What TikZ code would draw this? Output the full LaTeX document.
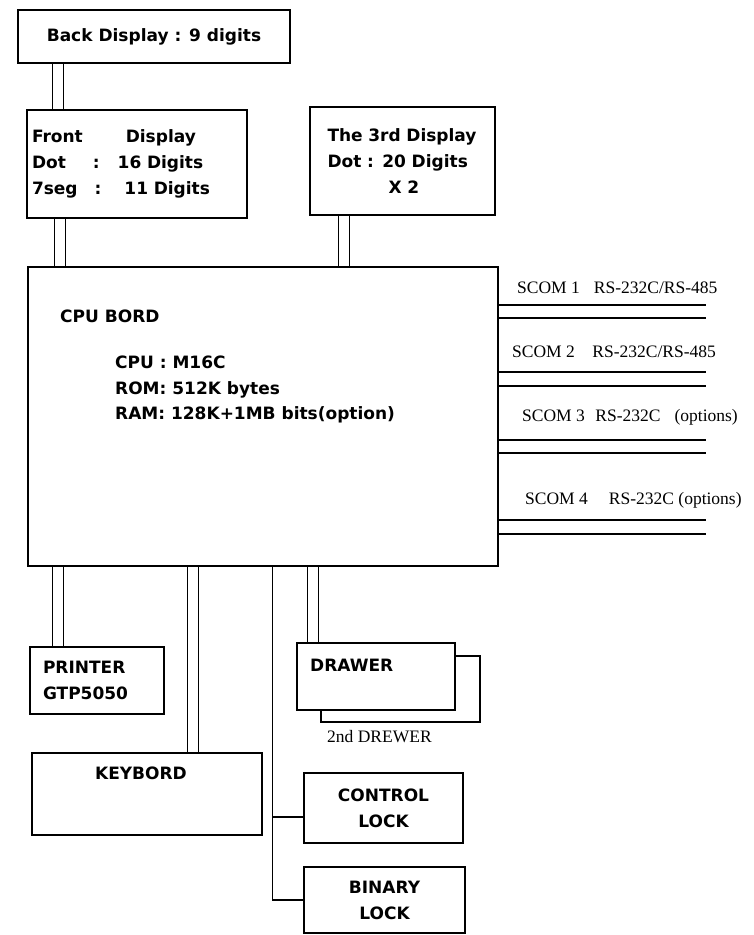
\documentclass[tikz,border=0pt]{standalone}
\usepackage{fontspec}
\setmainfont{DejaVu Sans}
\newfontfamily\scomfont{Liberation Serif}
\usetikzlibrary{positioning,calc,backgrounds}

\begin{document}
\begin{tikzpicture}[x=1pt,y=-1pt,
  box/.style={draw,line width=1.3pt,inner sep=0pt,align=left,font=\fontsize{17}{26}\selectfont\bfseries},
  txt/.style={inner sep=0pt,align=left,font=\fontsize{17}{25.5}\selectfont\bfseries},
  scom/.style={inner sep=0pt,anchor=west,font=\fontsize{17.5}{20}\selectfont\scomfont},
  pipe/.style={double,double distance=10pt,line width=1.1pt},
  wire/.style={line width=1.3pt}]
  \useasboundingbox (0,0) rectangle (754,935);
  \node[box,minimum width=272pt,minimum height=53pt] (back) at (154,36.5) {Back Display : 9 digits};
  \node[box,minimum width=220pt,minimum height=108pt,text width=210pt] (front) at (137,164)
    {Front\hspace{43pt}Display\\Dot\hspace{27pt}:\hspace{18pt}16 Digits\\7seg\hspace{17pt}:\hspace{23pt}11 Digits};
  \node[box,minimum width=185pt,minimum height=108pt,text width=150pt] (third) at (402.5,161)
    {The 3rd Display\\Dot : 20 Digits\\\hspace*{61pt}X 2};
  \node[box,minimum width=470pt,minimum height=299pt] (cpu) at (263,416.5) {};
  \node[txt,anchor=west] (cpuname) at (60,316) {CPU BORD};
  \node[txt,anchor=north west] (cpuspec) at (115,356) {CPU : M16C\\ROM: 512K bytes\\RAM: 128K+1MB bits(option)};
  \node[scom] (scom1) at (517,288) {SCOM 1\hspace{0.8em}RS-232C/RS-485};
  \node[scom] (scom2) at (512,352) {SCOM 2\hspace{1em}RS-232C/RS-485};
  \node[scom] (scom3) at (522,417) {SCOM 3\hspace{0.6em}RS-232C\hspace{0.8em}(options)};
  \node[scom] (scom4) at (525,500) {SCOM 4\hspace{1.2em}RS-232C (options)};
  \foreach \y in {305,318,372,386,440,453,520,534}
    \draw[wire] (cpu.east |- 0,\y) -- ++(207,0);
  \node[box,minimum width=134pt,minimum height=67pt,text width=108pt] (printer) at (97,680.5) {PRINTER\\GTP5050};
  \node[box,minimum width=230pt,minimum height=82pt] (kbd) at (147,794) {};
  \node[txt] (kbdname) at (141,773) {KEYBORD};
  \node[box,minimum width=159pt,minimum height=66pt] (drawer2) at (400.5,689) {};
  \node[box,fill=white,minimum width=158pt,minimum height=67pt] (drawer) at (376,676.5) {};
  \node[txt,anchor=west] (drawername) at (310,665) {DRAWER};
  \node[scom] (drawer2name) at (327,737) {2nd DREWER};
  \node[box,align=center,minimum width=159pt,minimum height=70pt] (ctrl) at (383.5,808) {CONTROL\\LOCK};
  \node[box,align=center,minimum width=161pt,minimum height=66pt] (binary) at (384.5,900) {BINARY\\LOCK};
  \begin{scope}[on background layer]
    \foreach \a/\b/\dx in {back/front/41,front/cpu/34,third/cpu/35,cpu/printer/31,cpu/kbd/165.5,cpu/drawer/286}{
      \coordinate (t) at ([xshift=\dx pt]\a.south west);
      \draw[pipe] (t) -- (t |- \b.north);
    }
  \end{scope}
  \coordinate (bus) at ([xshift=245pt]cpu.south west);
  \coordinate (cl) at ([yshift=-9pt]ctrl.west);
  \draw[wire] (bus) |- (binary.west);
  \draw[wire] (cl) -- (cl -| bus);
\end{tikzpicture}
\end{document}
